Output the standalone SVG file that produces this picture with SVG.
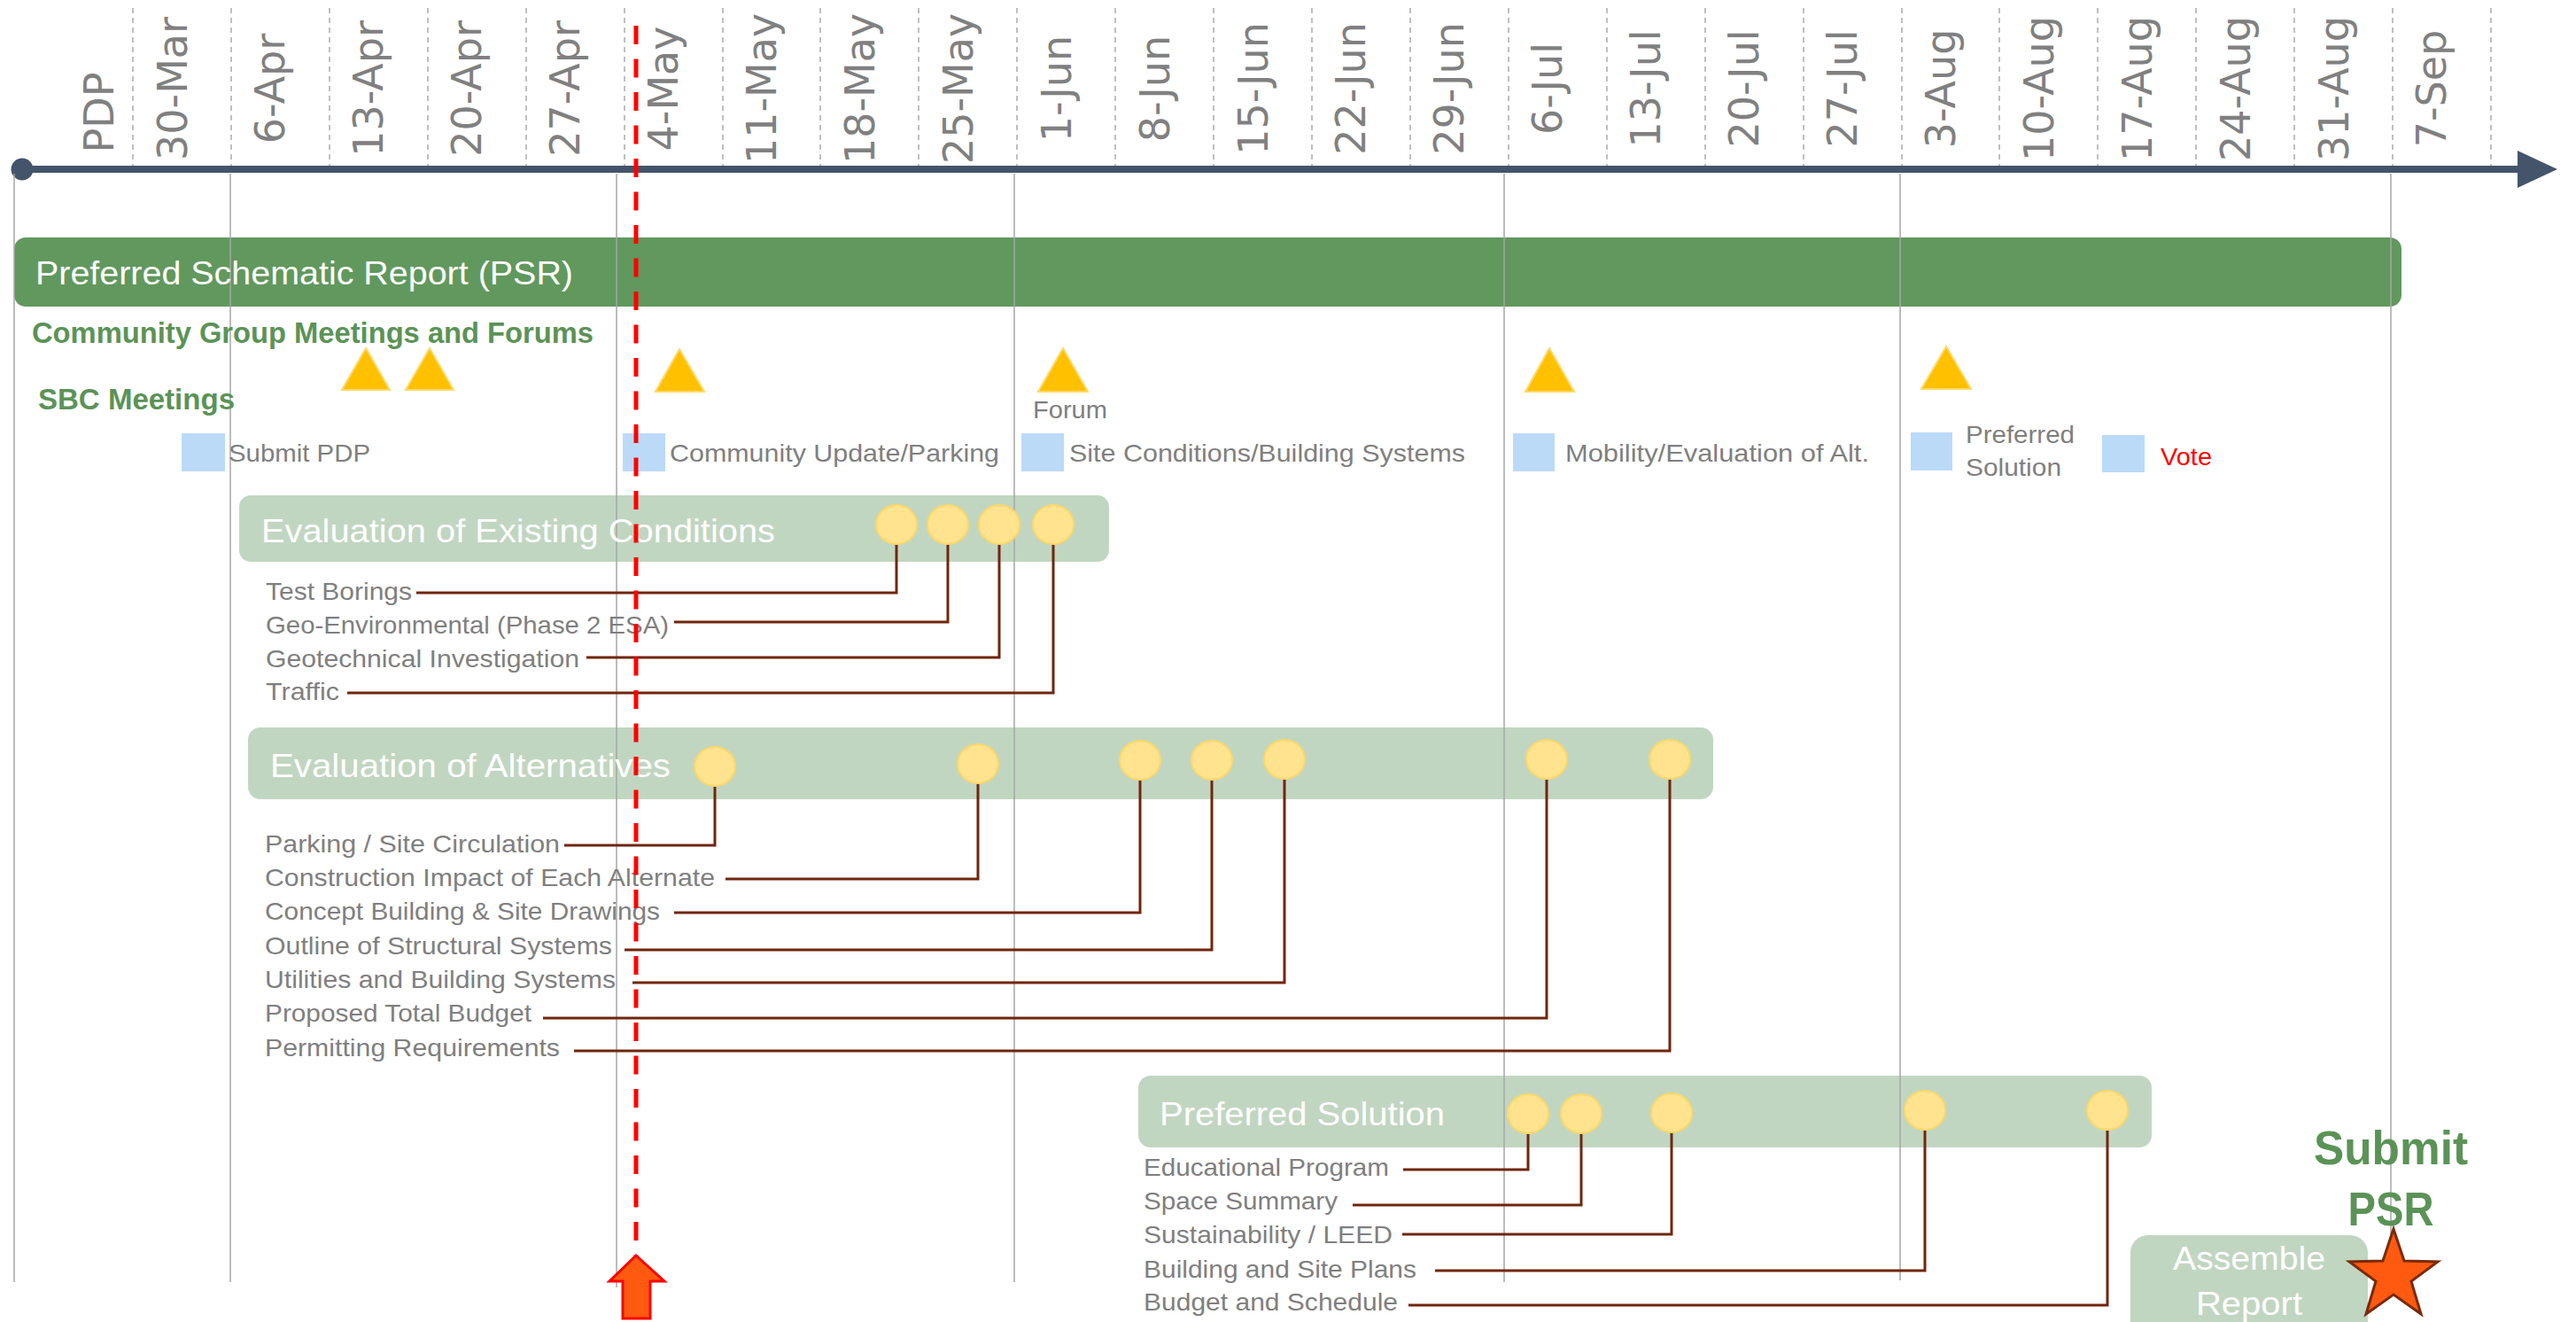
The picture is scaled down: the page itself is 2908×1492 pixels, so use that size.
<svg xmlns="http://www.w3.org/2000/svg" width="2908" height="1492" viewBox="0 0 2908 1492">
<style>
.date{font-family:"DejaVu Sans",sans-serif;font-size:46px;fill:#808080;text-anchor:middle}
.lbl{font-family:"Liberation Sans",Arial,sans-serif;font-size:28px;fill:#7F7F7F}
.hdr{font-family:"Liberation Sans",Arial,sans-serif;font-size:37px;fill:#FFFFFF}
.grn{font-family:"Liberation Sans",Arial,sans-serif;font-weight:bold;fill:#5B9357}
.box{fill:#C1D6C1}
.dot{fill:#FFE38F;stroke:#FDD866;stroke-width:2}
.tri{fill:#FFC000;stroke:#FFD966;stroke-width:2}
.sq{fill:#BBDAF8}
.con{fill:none;stroke:#70260C;stroke-width:3}
.dash{stroke:#BFBFBF;stroke-width:2;stroke-dasharray:6 5}
.vl{stroke:#A6A6A6;stroke-width:1.5}
</style>

<g id="grid-dashed">
<line class="dash" x1="150" y1="9" x2="150" y2="187"/>
<line class="dash" x1="261" y1="9" x2="261" y2="187"/>
<line class="dash" x1="372" y1="9" x2="372" y2="187"/>
<line class="dash" x1="483" y1="9" x2="483" y2="187"/>
<line class="dash" x1="594" y1="9" x2="594" y2="187"/>
<line class="dash" x1="705" y1="9" x2="705" y2="187"/>
<line class="dash" x1="816" y1="9" x2="816" y2="187"/>
<line class="dash" x1="926" y1="9" x2="926" y2="187"/>
<line class="dash" x1="1037" y1="9" x2="1037" y2="187"/>
<line class="dash" x1="1148" y1="9" x2="1148" y2="187"/>
<line class="dash" x1="1259" y1="9" x2="1259" y2="187"/>
<line class="dash" x1="1370" y1="9" x2="1370" y2="187"/>
<line class="dash" x1="1481" y1="9" x2="1481" y2="187"/>
<line class="dash" x1="1592" y1="9" x2="1592" y2="187"/>
<line class="dash" x1="1703" y1="9" x2="1703" y2="187"/>
<line class="dash" x1="1814" y1="9" x2="1814" y2="187"/>
<line class="dash" x1="1925" y1="9" x2="1925" y2="187"/>
<line class="dash" x1="2036" y1="9" x2="2036" y2="187"/>
<line class="dash" x1="2147" y1="9" x2="2147" y2="187"/>
<line class="dash" x1="2257" y1="9" x2="2257" y2="187"/>
<line class="dash" x1="2368" y1="9" x2="2368" y2="187"/>
<line class="dash" x1="2479" y1="9" x2="2479" y2="187"/>
<line class="dash" x1="2590" y1="9" x2="2590" y2="187"/>
<line class="dash" x1="2701" y1="9" x2="2701" y2="187"/>
<line class="dash" x1="2812" y1="9" x2="2812" y2="187"/>
</g>

<g id="date-labels">
<text class="date" transform="translate(128 127) rotate(-90)">PDP</text>
<text class="date" transform="translate(210.5 100) rotate(-90)">30-Mar</text>
<text class="date" transform="translate(321.4 100) rotate(-90)">6-Apr</text>
<text class="date" transform="translate(432.3 100) rotate(-90)">13-Apr</text>
<text class="date" transform="translate(543.2 100) rotate(-90)">20-Apr</text>
<text class="date" transform="translate(654.1 100) rotate(-90)">27-Apr</text>
<text class="date" transform="translate(765.1 100) rotate(-90)">4-May</text>
<text class="date" transform="translate(876 100) rotate(-90)">11-May</text>
<text class="date" transform="translate(986.9 100) rotate(-90)">18-May</text>
<text class="date" transform="translate(1097.8 100) rotate(-90)">25-May</text>
<text class="date" transform="translate(1208.7 100) rotate(-90)">1-Jun</text>
<text class="date" transform="translate(1319.6 100) rotate(-90)">8-Jun</text>
<text class="date" transform="translate(1430.5 100) rotate(-90)">15-Jun</text>
<text class="date" transform="translate(1541.4 100) rotate(-90)">22-Jun</text>
<text class="date" transform="translate(1652.3 100) rotate(-90)">29-Jun</text>
<text class="date" transform="translate(1763.3 100) rotate(-90)">6-Jul</text>
<text class="date" transform="translate(1874.2 100) rotate(-90)">13-Jul</text>
<text class="date" transform="translate(1985.1 100) rotate(-90)">20-Jul</text>
<text class="date" transform="translate(2096 100) rotate(-90)">27-Jul</text>
<text class="date" transform="translate(2206.9 100) rotate(-90)">3-Aug</text>
<text class="date" transform="translate(2317.8 100) rotate(-90)">10-Aug</text>
<text class="date" transform="translate(2428.7 100) rotate(-90)">17-Aug</text>
<text class="date" transform="translate(2539.6 100) rotate(-90)">24-Aug</text>
<text class="date" transform="translate(2650.5 100) rotate(-90)">31-Aug</text>
<text class="date" transform="translate(2761.4 100) rotate(-90)">7-Sep</text>
</g>

<g id="axis">
<line x1="25" y1="191" x2="2846" y2="191" stroke="#44546A" stroke-width="8"/>
<circle cx="25" cy="191" r="12.5" fill="#44546A"/>
<polygon points="2842,170 2887,191 2842,212" fill="#44546A"/>
</g>

<g id="psr-bar">
<rect x="16" y="268" width="2695" height="78" rx="13" fill="#61985D"/>
</g>

<g id="phase-boxes">
<rect id="eec-box" class="box" x="270" y="559" width="982" height="75" rx="13"/>
<rect id="alt-box" class="box" x="280" y="821" width="1654" height="81" rx="14"/>
<rect id="ps-box" class="box" x="1285" y="1214" width="1144" height="81" rx="14"/>
<rect id="assemble-box" class="box" x="2405" y="1394" width="268" height="130" rx="20"/>
</g>

<g id="grid-solid">
<line class="vl" x1="16" y1="196" x2="16" y2="1447"/>
<line class="vl" x1="260" y1="196" x2="260" y2="1447"/>
<line class="vl" x1="696" y1="196" x2="696" y2="1453"/>
<line class="vl" x1="1145" y1="196" x2="1145" y2="1447"/>
<line class="vl" x1="1698" y1="196" x2="1698" y2="1447"/>
<line class="vl" x1="2145" y1="196" x2="2145" y2="1445"/>
<line class="vl" x1="2699" y1="196" x2="2699" y2="1445"/>
</g>

<g id="psr-title">
<text class="hdr" x="40" y="321" textLength="607" lengthAdjust="spacingAndGlyphs">Preferred Schematic Report (PSR)</text>
</g>

<g id="community-meetings">
<text class="grn" x="36" y="387" font-size="33" textLength="634" lengthAdjust="spacingAndGlyphs">Community Group Meetings and Forums</text>
<polygon class="tri" points="413,393 440,440 386,440"/>
<polygon class="tri" points="485,393 512,440 458,440"/>
<polygon class="tri" points="767,394 795,442 740,442"/>
<polygon class="tri" points="1200,393 1228,442 1172,442"/>
<polygon class="tri" points="1749,393 1777,442 1722,442"/>
<polygon class="tri" points="2197,391 2225,439 2169,439"/>
<text class="lbl" x="1166" y="472" font-size="27" textLength="84" lengthAdjust="spacingAndGlyphs">Forum</text>
</g>

<g id="sbc-meetings">
<text class="grn" x="43" y="462" font-size="33" textLength="222" lengthAdjust="spacingAndGlyphs">SBC Meetings</text>
<rect class="sq" x="205" y="489" width="49" height="43"/>
<text class="lbl" x="258" y="521" textLength="160" lengthAdjust="spacingAndGlyphs">Submit PDP</text>
<rect class="sq" x="703" y="489" width="48" height="43"/>
<text class="lbl" x="756" y="521" textLength="372" lengthAdjust="spacingAndGlyphs">Community Update/Parking</text>
<rect class="sq" x="1153" y="489" width="48" height="43"/>
<text class="lbl" x="1207" y="521" textLength="447" lengthAdjust="spacingAndGlyphs">Site Conditions/Building Systems</text>
<rect class="sq" x="1708" y="489" width="47" height="43"/>
<text class="lbl" x="1767" y="521" textLength="343" lengthAdjust="spacingAndGlyphs">Mobility/Evaluation of Alt.</text>
<rect class="sq" x="2157" y="488" width="47" height="43"/>
<text class="lbl" x="2219" y="500" textLength="123" lengthAdjust="spacingAndGlyphs">Preferred</text>
<text class="lbl" x="2219" y="537" textLength="108" lengthAdjust="spacingAndGlyphs">Solution</text>
<rect class="sq" x="2373" y="491" width="48" height="42"/>
<text class="lbl" x="2439" y="525" fill="#FF0000" style="fill:#FF0000" textLength="58" lengthAdjust="spacingAndGlyphs">Vote</text>
</g>

<g id="connectors">
<polyline class="con" points="1012,614 1012,669 470,669"/>
<polyline class="con" points="1070,614 1070,702 761,702"/>
<polyline class="con" points="1128,614 1128,742 662,742"/>
<polyline class="con" points="1189,614 1189,782 392,782"/>
<polyline class="con" points="807,887 807,954 637,954"/>
<polyline class="con" points="1104,884 1104,992 819,992"/>
<polyline class="con" points="1287,880 1287,1030 761,1030"/>
<polyline class="con" points="1368,880 1368,1072 705,1072"/>
<polyline class="con" points="1450,879 1450,1109 714,1109"/>
<polyline class="con" points="1746,879 1746,1149 613,1149"/>
<polyline class="con" points="1885,879 1885,1186 648,1186"/>
<polyline class="con" points="1725,1279 1725,1320 1584,1320"/>
<polyline class="con" points="1785,1279 1785,1360 1527,1360"/>
<polyline class="con" points="1887,1278 1887,1393 1583,1393"/>
<polyline class="con" points="2173,1275 2173,1434 1620,1434"/>
<polyline class="con" points="2379,1275 2379,1473 1590,1473"/>
</g>

<g id="eval-existing">
<text class="hdr" x="295" y="612" textLength="580" lengthAdjust="spacingAndGlyphs">Evaluation of Existing Conditions</text>
<ellipse class="dot" cx="1012" cy="592" rx="23" ry="22"/>
<ellipse class="dot" cx="1070" cy="592" rx="23" ry="22"/>
<ellipse class="dot" cx="1128" cy="592" rx="23" ry="22"/>
<ellipse class="dot" cx="1189" cy="592" rx="23" ry="22"/>
<text class="lbl" x="300" y="677" textLength="165" lengthAdjust="spacingAndGlyphs">Test Borings</text>
<text class="lbl" x="300" y="715" textLength="455" lengthAdjust="spacingAndGlyphs">Geo-Environmental (Phase 2 ESA)</text>
<text class="lbl" x="300" y="753" textLength="354" lengthAdjust="spacingAndGlyphs">Geotechnical Investigation</text>
<text class="lbl" x="300" y="790" textLength="83" lengthAdjust="spacingAndGlyphs">Traffic</text>
</g>

<g id="eval-alternatives">
<text class="hdr" x="305" y="877" textLength="452" lengthAdjust="spacingAndGlyphs">Evaluation of Alternatives</text>
<ellipse class="dot" cx="807" cy="865" rx="23" ry="22"/>
<ellipse class="dot" cx="1104" cy="862" rx="23" ry="22"/>
<ellipse class="dot" cx="1287" cy="858" rx="23" ry="22"/>
<ellipse class="dot" cx="1368" cy="858" rx="23" ry="22"/>
<ellipse class="dot" cx="1450" cy="857" rx="23" ry="22"/>
<ellipse class="dot" cx="1746" cy="857" rx="23" ry="22"/>
<ellipse class="dot" cx="1885" cy="857" rx="23" ry="22"/>
<text class="lbl" x="299" y="962" textLength="333" lengthAdjust="spacingAndGlyphs">Parking / Site Circulation</text>
<text class="lbl" x="299" y="1000" textLength="508" lengthAdjust="spacingAndGlyphs">Construction Impact of Each Alternate</text>
<text class="lbl" x="299" y="1038" textLength="446" lengthAdjust="spacingAndGlyphs">Concept Building &amp; Site Drawings</text>
<text class="lbl" x="299" y="1077" textLength="392" lengthAdjust="spacingAndGlyphs">Outline of Structural Systems</text>
<text class="lbl" x="299" y="1115" textLength="396" lengthAdjust="spacingAndGlyphs">Utilities and Building Systems</text>
<text class="lbl" x="299" y="1153" textLength="301" lengthAdjust="spacingAndGlyphs">Proposed Total Budget</text>
<text class="lbl" x="299" y="1192" textLength="333" lengthAdjust="spacingAndGlyphs">Permitting Requirements</text>
</g>

<g id="preferred-solution">
<text class="hdr" x="1309" y="1270" textLength="322" lengthAdjust="spacingAndGlyphs">Preferred Solution</text>
<ellipse class="dot" cx="1725" cy="1257" rx="23" ry="22"/>
<ellipse class="dot" cx="1785" cy="1257" rx="23" ry="22"/>
<ellipse class="dot" cx="1887" cy="1256" rx="23" ry="22"/>
<ellipse class="dot" cx="2173" cy="1253" rx="23" ry="22"/>
<ellipse class="dot" cx="2379" cy="1253" rx="23" ry="22"/>
<text class="lbl" x="1291" y="1327" textLength="277" lengthAdjust="spacingAndGlyphs">Educational Program</text>
<text class="lbl" x="1291" y="1365" textLength="219" lengthAdjust="spacingAndGlyphs">Space Summary</text>
<text class="lbl" x="1291" y="1403" textLength="281" lengthAdjust="spacingAndGlyphs">Sustainability / LEED</text>
<text class="lbl" x="1291" y="1442" textLength="308" lengthAdjust="spacingAndGlyphs">Building and Site Plans</text>
<text class="lbl" x="1291" y="1479" textLength="287" lengthAdjust="spacingAndGlyphs">Budget and Schedule</text>
</g>

<g id="assemble-report">
<text class="hdr" x="2539" y="1433" text-anchor="middle" textLength="172" lengthAdjust="spacingAndGlyphs">Assemble</text>
<text class="hdr" x="2539" y="1484" text-anchor="middle" textLength="120" lengthAdjust="spacingAndGlyphs">Report</text>
</g>

<g id="submit-psr">
<text class="grn" x="2699" y="1314" font-size="54" text-anchor="middle" textLength="174" lengthAdjust="spacingAndGlyphs">Submit</text>
<text class="grn" x="2699" y="1383" font-size="54" text-anchor="middle" textLength="97" lengthAdjust="spacingAndGlyphs">PSR</text>
<polygon points="2702,1387 2714,1423 2752,1424 2722,1446 2733,1483 2702,1461 2671,1483 2682,1446 2652,1424 2690,1423" fill="#FF5A0F" stroke="#7A2A0A" stroke-width="3" stroke-linejoin="miter"/>
</g>

<g id="today-marker">
<line x1="718" y1="29" x2="718" y2="1418" stroke="#FF0000" stroke-width="5" stroke-dasharray="21 16.5"/>
<polygon points="718,1417 750,1446 734,1446 734,1488 703,1488 703,1446 688,1446" fill="#FF5A0F" stroke="#FF0000" stroke-width="3"/>
</g>
</svg>
